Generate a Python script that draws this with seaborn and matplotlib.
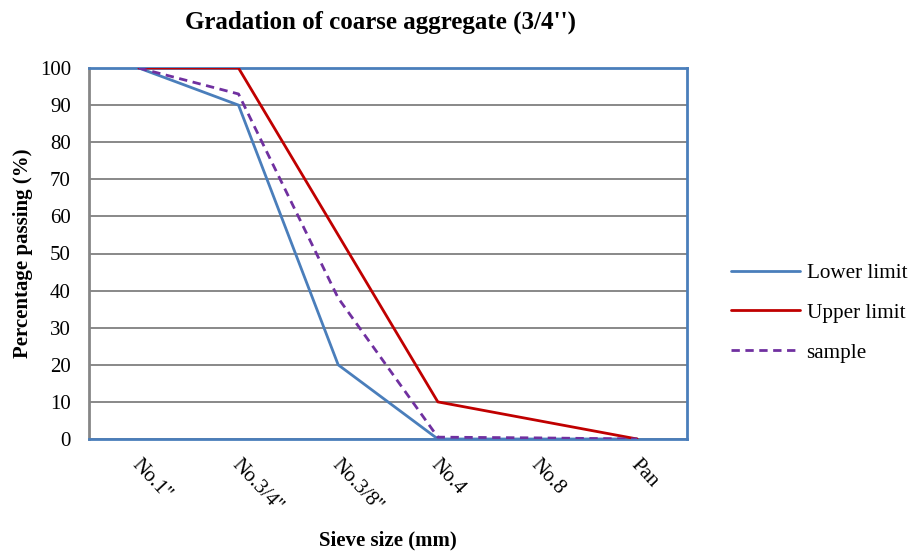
import matplotlib
matplotlib.use("Agg")
import matplotlib.pyplot as plt
import seaborn as sns
import pandas as pd
import numpy as np
from matplotlib.ticker import FixedLocator
from matplotlib.transforms import ScaledTranslation

sieves = ["No.1''", "No.3/4''", "No.3/8''", "No.4", "No.8", "Pan"]
lower_limit = [100, 90, 20, 0, 0, 0]
upper_limit = [100, 100, 55, 10, 5, 0]
sample = [100, 93, 38, 0.5, 0.3, 0]

sns.set_theme(style="white")
plt.rcParams['font.family'] = ['Liberation Serif', 'DejaVu Serif']
plt.rcParams['text.color'] = 'black'
plt.rcParams['axes.labelcolor'] = 'black'
plt.rcParams['xtick.color'] = 'black'
plt.rcParams['ytick.color'] = 'black'

fig = plt.figure(figsize=(9.13, 5.53), dpi=100)
ax = fig.add_axes([89/913, 1-439/553, (687-89)/913, (439-68)/553])

x = np.arange(len(sieves))
df = pd.DataFrame({"x": np.tile(x, 3),
                   "y": lower_limit + upper_limit + sample,
                   "series": ["Lower limit"]*6 + ["Upper limit"]*6 + ["sample"]*6})
colors = {"Lower limit": "#4A7EBB", "Upper limit": "#C00000", "sample": "#7030A0"}
for name, ls in [("Lower limit", "-"), ("Upper limit", "-"), ("sample", (0, (3, 2)))]:
    d = df[df.series == name]
    sns.lineplot(data=d, x="x", y="y", ax=ax, color=colors[name], linewidth=2,
                 linestyle=ls, label=name, zorder=3)

ax.set_xlim(-0.5, 5.5)
ax.set_ylim(0, 100)
ax.set_yticks(np.arange(0, 101, 10))
ax.yaxis.grid(True, color="#7F7F7F", linewidth=1.3)
ax.xaxis.grid(False)
ax.set_xticks(x)
ax.set_xticklabels(sieves, rotation=-47, ha="left", va="top", rotation_mode="anchor", fontsize=15)
ax.xaxis.set_minor_locator(FixedLocator(np.arange(-0.5, 6, 1)))
ax.tick_params(axis="x", which="major", length=0, pad=12)
ax.tick_params(axis="x", which="minor", length=6, color="#868686", width=1.2, direction="out")
ax.tick_params(axis="y", length=5, color="#868686", width=1.2, direction="out", labelsize=15, pad=8)
for lbl in ax.get_xticklabels():
    lbl.set_transform(lbl.get_transform() + ScaledTranslation(3/100, 0, fig.dpi_scale_trans))

for s in ["top", "right", "bottom"]:
    ax.spines[s].set_color("#4A7EBB")
    ax.spines[s].set_linewidth(2)
ax.spines["left"].set_color("#868686")
ax.spines["left"].set_linewidth(2)

ax.set_xlabel("Sieve size (mm)", fontsize=15, fontweight="bold", va="top")
ax.xaxis.set_label_coords(388/913, 1-530/553, transform=fig.transFigure)
ax.set_ylabel("Percentage passing (%)", fontsize=15, fontweight="bold", labelpad=5)
fig.suptitle("Gradation of coarse aggregate (3/4'')", x=380/913, y=1-22/553, va="center",
             fontsize=18, fontweight="bold")

leg = ax.legend(loc="center left", bbox_to_anchor=(720/913, 1-313/553),
                bbox_transform=fig.transFigure, frameon=False, fontsize=15.2,
                handlelength=3.3, labelspacing=0.95, handletextpad=0.3, borderpad=0)
fig.savefig("out.png", dpi=100)
